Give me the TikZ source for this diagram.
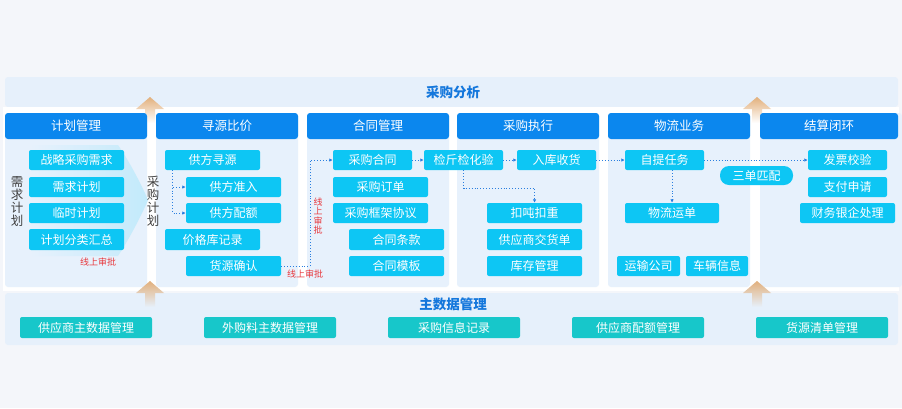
\documentclass[tikz,border=0pt]{standalone}
\usepackage{fontspec}
\setmainfont{Noto Sans CJK SC}
\usetikzlibrary{arrows.meta,calc}
\definecolor{bgc}{HTML}{F4F6FA}
\definecolor{band}{HTML}{E6F0FB}
\definecolor{colbody}{HTML}{E7F1FC}
\definecolor{hdrc}{HTML}{0B87EE}
\definecolor{cyanc}{HTML}{0DC6F4}
\definecolor{tealc}{HTML}{17C7CA}
\definecolor{titc}{HTML}{1477DC}
\definecolor{redc}{HTML}{E8383D}
\definecolor{linec}{HTML}{2A7FE0}
\definecolor{arrc}{HTML}{E2B07C}
\definecolor{glow}{HTML}{C2EAFB}
\tikzset{
  cbox/.style={fill=cyanc,rounded corners=2pt,text=white,inner sep=0pt,font=\fontsize{12}{14}\selectfont},
  tbox/.style={fill=tealc,rounded corners=2pt,text=white,inner sep=0pt,font=\fontsize{12}{14}\selectfont},
  hdr/.style={fill=hdrc,rounded corners=3pt,text=white,inner sep=0pt,font=\fontsize{12.5}{14}\selectfont},
  pill/.style={fill=cyanc,rounded corners=9pt,text=white,inner sep=0pt,font=\fontsize{12}{14}\selectfont},
  vtext/.style={align=center,inner sep=0pt,font=\fontsize{12.5}{13}\selectfont,text=black!75},
  redtxt/.style={text=redc,inner sep=0pt,font=\fontsize{9}{10}\selectfont},
  vred/.style={text=redc,inner sep=0pt,align=center,font=\fontsize{9}{9.5}\selectfont},
  title/.style={text=titc,inner sep=0pt,font=\fontsize{13.5}{15}\selectfont\bfseries},
  conn/.style={draw=linec,dotted,line width=0.9pt,-{Latex[length=3.5pt,width=3.5pt]}},
  connn/.style={draw=linec,dotted,line width=0.9pt},
}
\newcommand\bx[7][cbox]{\node[#1,minimum width={(#4-#2)*1pt},minimum height={(#5-#3)*1pt}] (#6) at ({(#2+#4)/2},{(#3+#5)/2}) {#7};}
\newcommand\uparr[3]{\shade[top color=arrc,bottom color=#3] (#1,#2) -- ({#1+14},{#2+12}) -- ({#1+5},{#2+12}) -- ({#1+5},{#2+26}) -- ({#1-5},{#2+26}) -- ({#1-5},{#2+12}) -- ({#1-14},{#2+12}) -- cycle;}
\begin{document}
\begin{tikzpicture}[x=1pt,y=-1pt]
\useasboundingbox (0,0) rectangle (902,408);
\fill[bgc] (0,0) rectangle (902,408);
% top band
\fill[band,rounded corners=3pt] (5,77) rectangle (898,107);
\node[title] (tana) at (453,92) {采购分析};
% white panel
\fill[white] (3,107) rectangle (899,291);
% up arrows (top)
\uparr{150}{97}{white}
\uparr{757}{97}{white}
% column bodies
\foreach \xa in {5,156,307,457,608,760}{
  \fill[colbody,rounded corners=3pt] (\xa,113) rectangle ({\xa+142},287);
}
% headers
\bx[hdr]{5}{113}{147}{139}{h1}{计划管理}
\bx[hdr]{156}{113}{298}{139}{h2}{寻源比价}
\bx[hdr]{307}{113}{449}{139}{h3}{合同管理}
\bx[hdr]{457}{113}{599}{139}{h4}{采购执行}
\bx[hdr]{608}{113}{750}{139}{h5}{物流业务}
\bx[hdr]{760}{113}{898}{139}{h6}{结算闭环}
% glow chevron col 1
\shade[left color=colbody,right color=glow] (30,145) -- (118,145) .. controls (130,162) and (144,190) .. (148,200) .. controls (144,210) and (130,238) .. (118,256) -- (30,256) -- cycle;
% column 1
\node[vtext] (v1) at (17,201) {需\\求\\计\\划};
\bx{29}{150}{124}{170}{c1a}{战略采购需求}
\bx{29}{177}{124}{197}{c1b}{需求计划}
\bx{29}{203}{124}{223}{c1c}{临时计划}
\bx{29}{229}{124}{250}{c1d}{计划分类汇总}
\node[redtxt] (r1) at (98,262) {线上审批};
% column 2
\node[vtext] (v2) at (153,201) {采\\购\\计\\划};
\bx{165}{150}{260}{170}{gfxy}{供方寻源}
\bx{186}{177}{281}{197}{gfzr}{供方准入}
\bx{186}{203}{281}{223}{gfpe}{供方配额}
\bx{165}{229}{260}{250}{jgk}{价格库记录}
\bx{186}{256}{281}{276}{hyqr}{货源确认}
\draw[conn] ($(gfxy.south west)+(8,0)$) |- (gfzr.west);
\draw[conn] ($(gfxy.south west)+(8,0)$) |- (gfpe.west);
% column 3
\bx{333}{150}{412}{170}{cght}{采购合同}
\bx{333}{177}{428}{197}{cgdd}{采购订单}
\bx{333}{203}{428}{223}{kjxy}{采购框架协议}
\bx{349}{229}{444}{250}{httk}{合同条款}
\bx{349}{256}{444}{276}{htmb}{合同模板}
\coordinate (k1) at (310,266);
\draw[connn] (hyqr.east) -- (k1);
\draw[conn] (k1) |- (cght.west);
\node[redtxt] (r2) at (305,274) {线上审批};
\node[vred] (r3) at (318,216) {线\\上\\审\\批};
% column 4
\bx{424}{150}{503}{170}{jj}{检斤检化验}
\bx{517}{150}{596}{170}{rksh}{入库收货}
\bx{487}{203}{582}{223}{kdkz}{扣吨扣重}
\bx{487}{229}{582}{250}{gysj}{供应商交货单}
\bx{487}{256}{582}{276}{kcgl}{库存管理}
\draw[conn] (cght.east) -- (jj.west);
\draw[conn] (jj.east) -- (rksh.west);
\draw[conn] (jj.south) -- ++(0,18) -| (kdkz.north);
% column 5
\bx{625}{150}{704}{170}{ztrw}{自提任务}
\bx{625}{203}{719}{223}{wlyd}{物流运单}
\bx{617}{256}{680}{276}{ysgs}{运输公司}
\bx{686}{256}{748}{276}{clxx}{车辆信息}
\draw[conn] (rksh.east) -- (ztrw.west);
\draw[conn] (wlyd.north |- ztrw.south) -- (wlyd.north);
% column 6
\bx{808}{150}{887}{170}{fpjy}{发票校验}
\bx{808}{177}{887}{197}{zfsq}{支付申请}
\bx{800}{203}{895}{223}{cwyq}{财务银企处理}
\draw[conn] (ztrw.east) -- (fpjy.west);
\bx[pill]{720}{166}{793}{185}{sdpp}{三单匹配}
% bottom band
\fill[band,rounded corners=3pt] (5,293) rectangle (898,345);
\uparr{150}{281}{band}
\uparr{757}{281}{band}
\node[title] (zsj) at (453,304) {主数据管理};
\bx[tbox]{20}{317}{152}{338}{m1}{供应商主数据管理}
\bx[tbox]{204}{317}{336}{338}{m2}{外购料主数据管理}
\bx[tbox]{388}{317}{520}{338}{m3}{采购信息记录}
\bx[tbox]{572}{317}{704}{338}{m4}{供应商配额管理}
\bx[tbox]{756}{317}{888}{338}{m5}{货源清单管理}
\end{tikzpicture}
\end{document}
